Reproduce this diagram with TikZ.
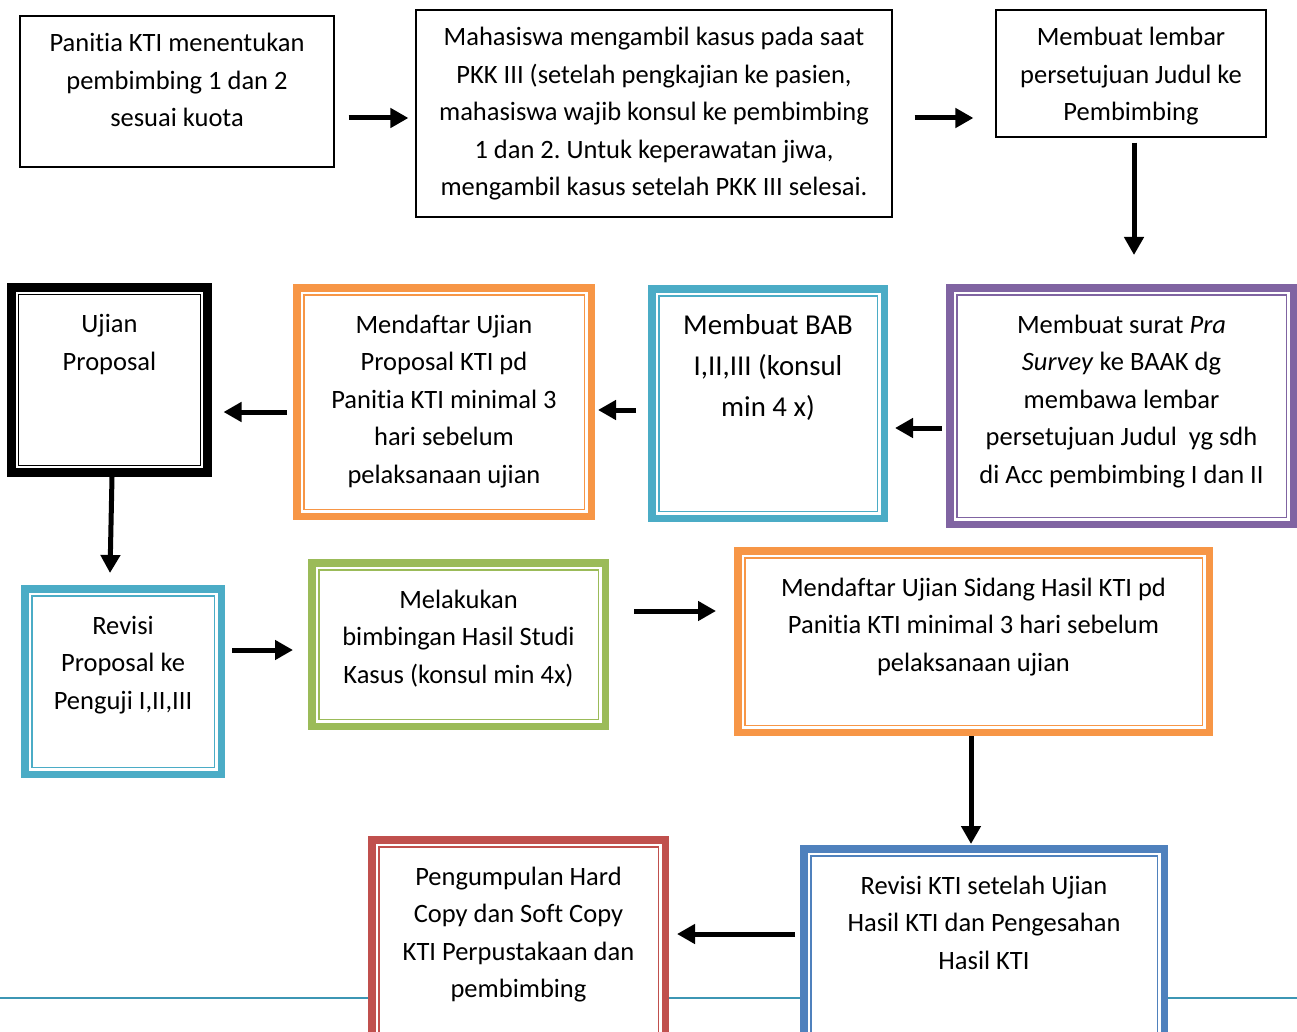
\documentclass[tikz,border=0pt]{standalone}
\usepackage{fontspec}
\setmainfont{Carlito}[Ligatures=NoCommon]
\usepackage{tikz}
\usetikzlibrary{arrows.meta}
\frenchspacing

\definecolor{ktipurple}{HTML}{8064A2}
\definecolor{ktiaqua}{HTML}{4BACC6}
\definecolor{ktiorange}{HTML}{F79646}
\definecolor{ktigreen}{HTML}{9BBB59}
\definecolor{ktired}{HTML}{C0504D}
\definecolor{ktiblue}{HTML}{4F81BD}
\definecolor{ktirule}{HTML}{3C96B4}

% lines of a box, hung from the first baseline
\newcommand{\boxlines}[1]{\begin{tabular}[t]{@{}c@{}}#1\end{tabular}}

\begin{document}
\begin{tikzpicture}[x=1pt, y=-1pt,
    font=\fontsize{26.5}{37.5}\selectfont,
    tbox/.style={draw, line width=1.2pt, fill=white, inner ysep=16pt, text height=20pt},
    dbox/.style={draw=#1, line width=7.5pt, fill=white, inner ysep=25.25pt, text height=20pt,
        path picture={\draw[#1, line width=1.5pt]
            ([xshift=7pt,yshift=-7pt]path picture bounding box.north west) rectangle
            ([xshift=-7pt,yshift=7pt]path picture bounding box.south east);}},
    arr/.style={-{Triangle[length=18pt,width=19pt]}, line width=5pt}]

    \useasboundingbox (0,0) rectangle (1297,1032);
    \clip (0,0) rectangle (1297,1032);

    % footer rule (behind the last boxes)
    \draw[ktirule, line width=2pt] (0,998) -- (1297,998);

    % row 1
    \node[tbox, minimum width=314pt, text depth=99pt] (panitia) at (177,91.5)
        {\boxlines{Panitia KTI menentukan\\pembimbing 1 dan 2\\sesuai kuota}};
    \node[tbox, minimum width=476pt, text depth=155pt] (mhs) at (654,113.5)
        {\boxlines{Mahasiswa mengambil kasus pada saat\\PKK III (setelah pengkajian ke pasien,\\mahasiswa wajib konsul ke pembimbing\\1 dan 2. Untuk keperawatan jiwa,\\mengambil kasus setelah PKK III selesai.}};
    \node[tbox, minimum width=270pt, text depth=75pt] (lembar) at (1131,73.5)
        {\boxlines{Membuat lembar\\persetujuan Judul ke\\Pembimbing}};

    % row 2
    \node[dbox=ktipurple, minimum width=343.5pt, text depth=166pt] (surat) at (1121.5,406)
        {\boxlines{Membuat surat \textit{Pra}\\\textit{Survey} ke BAAK dg\\membawa lembar\\persetujuan Judul\ \ yg sdh\\di Acc pembimbing I dan II}};
    \node[dbox=ktiaqua, minimum width=232.5pt, text depth=159pt,
        font=\fontsize{28.8}{41}\selectfont] (bab) at (768,403.5)
        {\boxlines{Membuat BAB\\I,II,III (konsul\\min 4 x)}};
    \node[dbox=ktiorange, minimum width=294.5pt, text depth=158pt] (daftar) at (444,402)
        {\boxlines{Mendaftar Ujian\\Proposal KTI pd\\Panitia KTI minimal 3\\hari sebelum\\pelaksanaan ujian}};
    \node[dbox=black, line width=9pt, minimum width=196pt, text depth=114.5pt] (ujian) at (109.5,380)
        {\boxlines{Ujian\\Proposal}};

    % row 3
    \node[dbox=ktiaqua, minimum width=196.5pt, text depth=115pt] (revisi) at (123,681.5)
        {\boxlines{Revisi\\Proposal ke\\Penguji I,II,III}};
    \node[dbox=ktigreen, minimum width=293.5pt, text depth=93pt] (bimbingan) at (458.5,644.5)
        {\boxlines{Melakukan\\bimbingan Hasil Studi\\Kasus (konsul min 4x)}};
    \node[dbox=ktiorange, minimum width=471.5pt, text depth=111pt] (sidang) at (973.5,641.5)
        {\boxlines{Mendaftar Ujian Sidang Hasil KTI pd\\Panitia KTI minimal 3 hari sebelum\\pelaksanaan ujian}};

    % row 4
    \node[dbox=ktiblue, minimum width=360.5pt, text depth=147pt] (revkti) at (984,957.5)
        {\boxlines{Revisi KTI setelah Ujian\\Hasil KTI dan Pengesahan\\Hasil KTI}};
    \node[dbox=ktired, minimum width=293.5pt, text depth=156pt] (kumpul) at (518.5,953)
        {\boxlines{Pengumpulan Hard\\Copy dan Soft Copy\\KTI Perpustakaan dan\\pembimbing}};

    % arrows
    \draw[arr] ([xshift=14pt,yshift=-26.5pt]panitia.east) -- ([xshift=-7pt,yshift=-4.5pt]mhs.west);
    \draw[arr] ([xshift=22pt,yshift=-4.5pt]mhs.east) -- ([xshift=-22pt,yshift=-44.5pt]lembar.west);
    \draw[arr] ([xshift=3pt,yshift=-5pt]lembar.south) -- ([xshift=12.5pt,yshift=29pt]surat.north);
    \draw[arr] ([xshift=-4pt,yshift=-22pt]surat.west) -- ([xshift=7pt,yshift=-24.5pt]bab.east);
    \draw[arr] ([xshift=-12pt,yshift=-6.5pt]bab.west) -- ([xshift=3pt,yshift=-8pt]daftar.east);
    \draw[arr] ([xshift=-6pt,yshift=-10pt]daftar.west) -- ([xshift=11.5pt,yshift=-32pt]ujian.east);
    \draw[arr] ([xshift=2.5pt]ujian.south) -- ([xshift=-13pt,yshift=12pt]revisi.north);
    \draw[arr] ([xshift=7pt,yshift=31.5pt]revisi.east) -- ([xshift=-15pt,yshift=-5.5pt]bimbingan.west);
    \draw[arr] ([xshift=25pt,yshift=33.5pt]bimbingan.east) -- ([xshift=-18pt,yshift=30.5pt]sidang.west);
    \draw[arr] ([xshift=-2.5pt]sidang.south) -- ([xshift=-13pt,yshift=1pt]revkti.north);
    \draw[arr] ([xshift=-5pt,yshift=23.5pt]revkti.west) -- ([xshift=8pt,yshift=19pt]kumpul.east);
\end{tikzpicture}
\end{document}
